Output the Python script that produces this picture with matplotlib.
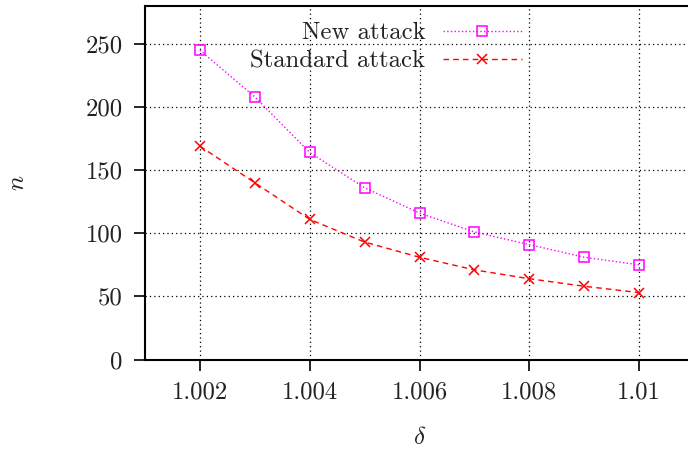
import matplotlib
matplotlib.use('Agg')
import matplotlib.pyplot as plt

# data
delta = [1.002, 1.003, 1.004, 1.005, 1.006, 1.007, 1.008, 1.009, 1.010]
n_new = [245, 208, 164, 136, 116, 101, 91, 81, 75]
n_std = [169, 140, 111, 93, 81, 71, 64, 58, 53]
xticks = [1.002, 1.004, 1.006, 1.008, 1.010]
xtick_labels = ['1.002', '1.004', '1.006', '1.008', '1.01']
yticks = [0, 50, 100, 150, 200, 250]

plt.rcParams['font.family'] = 'cmr10'
plt.rcParams['mathtext.fontset'] = 'cm'
plt.rcParams['axes.unicode_minus'] = False

fig = plt.figure(figsize=(6.88, 4.5), dpi=100)
ax = fig.add_axes([145 / 688, 1 - 359.5 / 450, 549 / 688, 353.5 / 450])

ax.plot(delta, n_new, color='#ff00ff', ls=':', lw=1.0, marker='s', ms=7.2,
        mfc='none', mec='#ff00ff', mew=1.1, label='New attack')
ax.plot(delta, n_std, color='#ff0000', ls=(0, (4, 3)), lw=1.0, marker='x', ms=7.2,
        mec='#ff0000', mew=1.1, label='Standard attack')

ax.set_xlim(1.001, 1.011)
ax.set_ylim(0, 280)
ax.set_xticks(xticks)
ax.set_xticklabels(xtick_labels)
ax.set_yticks(yticks)

ax.grid(True, color='black', ls=(0, (1, 2.5)), lw=0.9)
ax.set_axisbelow(True)
for s in ['left', 'bottom', 'top', 'right']:
    ax.spines[s].set_linewidth(1.5)
ax.tick_params(direction='out', length=8, width=1.2, labelsize=17.8,
               labelcolor='#222222', pad=8)

ax.set_xlabel(r'$\delta$', fontsize=18, color='#222222')
ax.set_ylabel(r'$n$', fontsize=18, color='#222222', rotation=90)
ax.xaxis.set_label_coords(0.5, -0.19)
ax.yaxis.set_label_coords(-0.212, 0.5)

leg = ax.legend(loc='upper right', bbox_to_anchor=(522 / 688, 1 - 22 / 450),
                bbox_transform=fig.transFigure, frameon=False, markerfirst=False,
                fontsize=17.8, handlelength=3.2, handletextpad=0.7,
                labelspacing=0.25, borderpad=0, borderaxespad=0)
for t in leg.get_texts():
    t.set_color('#222222')

fig.savefig('out.png', dpi=100)
